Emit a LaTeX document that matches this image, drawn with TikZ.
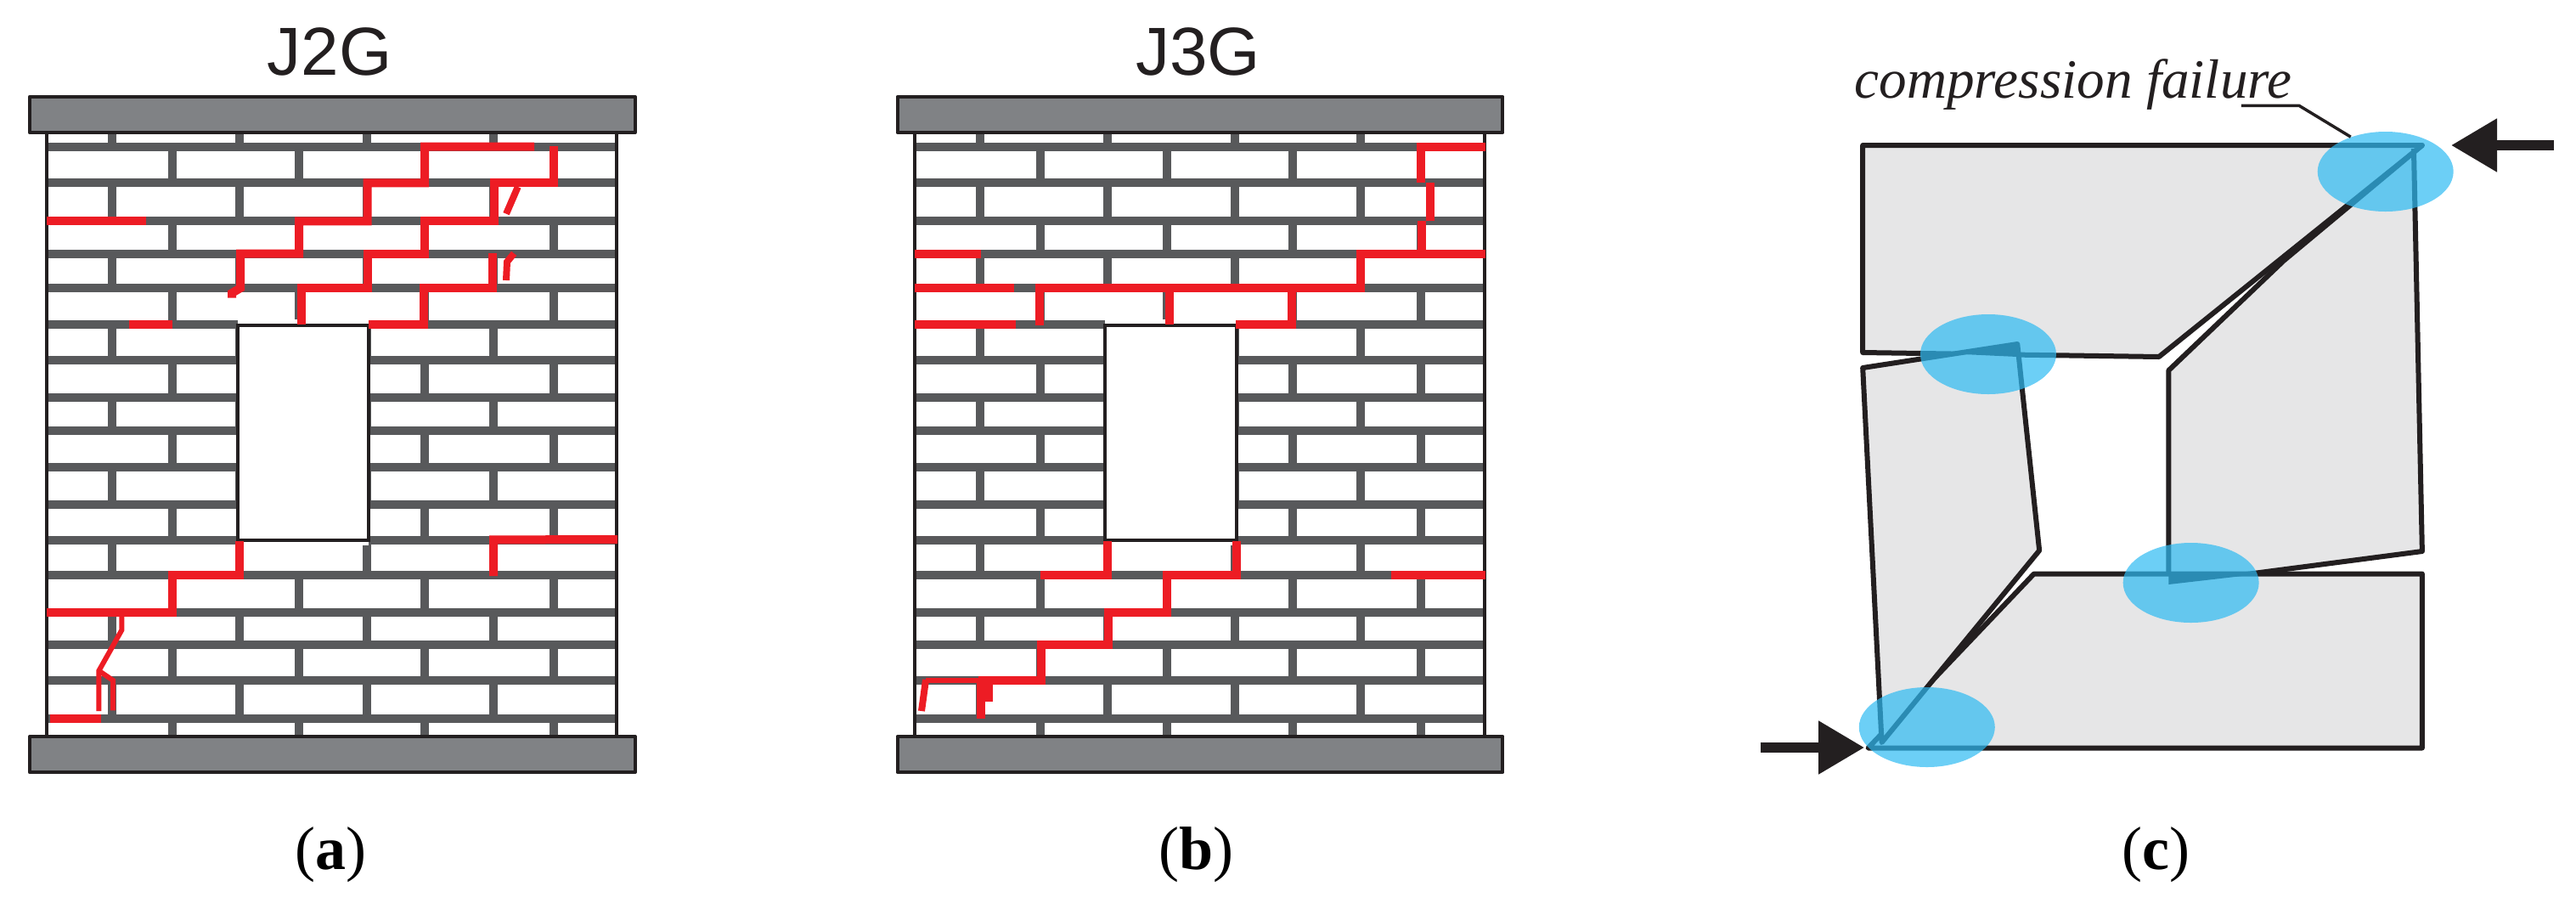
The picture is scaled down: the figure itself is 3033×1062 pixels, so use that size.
\documentclass[tikz,border=0pt]{standalone}
\usepackage{fontspec}
\setmainfont{Liberation Serif}
\newfontfamily\labelsans{Liberation Sans}
\usetikzlibrary{shapes,arrows.meta,positioning}
\definecolor{inkblack}{HTML}{231F20}
\definecolor{mortargray}{HTML}{58595B}
\definecolor{slabgray}{HTML}{808285}
\definecolor{crackred}{HTML}{ED1C24}
\definecolor{blockgray}{HTML}{E6E6E7}
\definecolor{spotblue}{HTML}{2EBAF2}
\tikzset{
  mortar/.style={draw=mortargray,line width=5pt},
  slab/.style={draw=inkblack,fill=slabgray,line width=2pt,line join=round},
  crack/.style={draw=crackred,line width=5pt},
  hairline/.style={draw=crackred,line width=3pt},
  block/.style={draw=inkblack,fill=blockgray,line width=3pt,line join=round},
  spot/.style={shape=ellipse,fill=spotblue,fill opacity=0.7,inner sep=0pt,minimum width=80pt,minimum height=47pt},
  load/.style={draw=inkblack,line width=5.8pt,-{Triangle[length=27pt,width=30pt,fill=inkblack]}},
  caption/.style={inner sep=0pt,anchor=base,font=\fontsize{36}{36}\selectfont},
  title/.style={inner sep=0pt,anchor=base,text=inkblack,font=\labelsans\fontsize{40}{40}\selectfont},
}
\def\brickwall{
  \foreach \ya/\yb in {157/172.7,215.3/260.3,298.7/339,382/424.3,467.7/506.5,550.2/593.9,636.3/677.4,721.1/758.8,801/845.6}
    \foreach \xb in {133,283.6,434,583.6} \draw[mortar] (\xb,\ya) -- (\xb,\yb);
  \foreach \ya/\yb in {172.7/215.3,260.3/298.7,339/382,424.3/467.7,506.5/550.2,593.9/636.3,677.4/721.1,758.8/801,845.6/865}
    \foreach \xb in {204,354,503,655} \draw[mortar] (\xb,\ya) -- (\xb,\yb);
  \foreach \yc in {172.7,215.3,260.3,298.7,339,381.7,424.3,467.7,506.5,550.2,593.9,636.3,677.4,721.1,758.8,801,845.6}
    \draw[mortar] (55.4,\yc) -- (730.8,\yc);
  \draw[inkblack,line width=2pt] (55.4,157) -- (55.4,865) (730,157) -- (730,865);
  \fill[white] (281,376) rectangle (436,642);
  \draw[inkblack,line width=2pt] (281,383) rectangle (436,636);
  \draw[slab] (35,114) rectangle (751.5,156);
  \draw[slab] (35,867) rectangle (751.5,909);
}
\begin{document}
\begin{tikzpicture}[x=0.5pt,y=-0.5pt]
  \useasboundingbox (0,0) rectangle (3033,1062);
  \begin{scope}[xscale=0.995]
    \brickwall
    \draw[crack] (632.3,172.7) -- (502.6,172.7) -- (502.6,215.3) -- (434.9,215.3) -- (434.9,260.3) -- (353.8,260.3)
      -- (353.8,298.7) -- (284.6,298.7) -- (284.6,339) -- (274.4,345) -- (274.4,350.7);
    \draw[crack] (654.9,171.7) -- (654.9,215.3) -- (584.6,215.3) -- (584.6,260.3) -- (502.6,260.3) -- (502.6,298.7)
      -- (434.9,298.7) -- (434.9,339) -- (356.9,339) -- (356.9,381.7);
    \draw[crack] (583,297.7) -- (583,339) -- (501.5,339) -- (501.5,381.7) -- (436,381.7);
    \draw[crack] (55.4,260.3) -- (172.8,260.3);
    \draw[crack] (152.8,382) -- (204,382);
    \draw[hairline,line width=4pt] (612.8,220) -- (599,251.7);
    \draw[hairline,line width=4pt] (599,330) -- (600,308.3) -- (608.2,298.3);
    \draw[crack] (283.6,637) -- (283.6,677.4) -- (204,677.4) -- (204,721.1) -- (55.4,721.1);
    \draw[crack] (730.8,635) -- (584,635.4) -- (584,678);
    \draw[hairline] (144,725.7) -- (144,741.8) -- (117,789.6) -- (117,837);
    \draw[hairline] (117,789.6) -- (133.8,801) -- (133.8,836.4);
    \draw[crack] (59,845.9) -- (119.5,845.9);
    \node[title] (titleA) at (390,88) {J2G};
    \node[caption] (captionA) at (391,1023) {(\textbf{a})};
  \end{scope}
  \begin{scope}[shift={(1021.7,0)},xscale=0.995]
    \brickwall
    \draw[crack] (731.3,172.7) -- (654.3,172.7) -- (654.3,215.3);
    \draw[crack] (665.6,215.3) -- (665.6,260.3);
    \draw[crack] (655.9,260.3) -- (655.9,298.7);
    \draw[crack] (731.3,298.7) -- (583,298.7) -- (583,339) -- (203.1,339) -- (203.1,383);
    \draw[crack] (55.4,299) -- (133.8,299);
    \draw[crack] (55.4,339) -- (173.3,339);
    \draw[crack] (55.4,382) -- (175.4,382);
    \draw[crack] (356.9,339) -- (356.9,381.7);
    \draw[crack] (501.5,339) -- (501.5,381.7) -- (435.4,381.7);
    \draw[crack] (284,637) -- (284,677.4) -- (204,677.4);
    \draw[crack] (436.4,637) -- (436.4,677.4) -- (354.4,677.4) -- (354.4,721.1) -- (285.1,721.1) -- (285.1,758.8)
      -- (205.1,758.8) -- (205.1,801) -- (131.3,801);
    \draw[hairline] (131.3,801) -- (68.7,801);
    \draw[hairline,line width=4pt] (68.7,800) -- (63.6,837);
    \draw[crack] (731.3,677.4) -- (619.5,677.4);
    \draw[crack] (133.8,801) -- (133.8,845.9);
    \draw[crack] (143,806) -- (143,826);
    \node[title] (titleB) at (391,88) {J3G};
    \node[caption] (captionB) at (389,1023) {(\textbf{b})};
  \end{scope}
  \begin{scope}[shift={(2030,0)},xscale=0.995,shift={(-2030,0)}]
    \draw[block] (2194,171) -- (2856,171) -- (2544.5,420) -- (2194,415) -- cycle;
    \draw[block] (2856,171) -- (2692,307) -- (2556,436) -- (2556,688) -- (2856,649) -- (2846,175);
    \draw[block] (2396.6,675.5) -- (2856,675.5) -- (2856,880.5) -- (2200.4,880.5) -- cycle;
    \draw[block] (2194,433) -- (2377,405) -- (2403,648) -- (2216.5,874) -- cycle;
    \fill[inkblack] (2556,675.5) -- (2665,675.5) -- (2556,688) -- cycle;
    \fill[inkblack] (2313,417) -- (2377,405) -- (2377,420) -- cycle;
    \node[spot] (spotTop) at (2812.6,202) {};
    \node[spot] (spotMid) at (2342.5,417) {};
    \node[spot] (spotRight) at (2582.4,686) {};
    \node[spot] (spotLow) at (2270,856) {};
    \node[inner sep=0pt,anchor=base west,text=inkblack,font=\fontsize{32.6}{33}\selectfont\itshape] (failure) at (2184,115) {compression failure};
    \coordinate (leaderStart) at (2642,124.3);
    \coordinate (leaderBend) at (2710.4,124.3);
    \draw[inkblack,line width=1.75pt] (leaderStart) -- (leaderBend) -- (spotTop.135);
    \coordinate (loadTopStart) at (3012,171);
    \coordinate (loadTopEnd) at (2890.4,171);
    \coordinate (loadLowStart) at (2073,880);
    \coordinate (loadLowEnd) at (2196,880);
    \draw[load] (loadTopStart) -- (loadTopEnd);
    \draw[load] (loadLowStart) -- (loadLowEnd);
    \node[caption] (captionC) at (2541,1023) {(\textbf{c})};
  \end{scope}
\end{tikzpicture}
\end{document}
